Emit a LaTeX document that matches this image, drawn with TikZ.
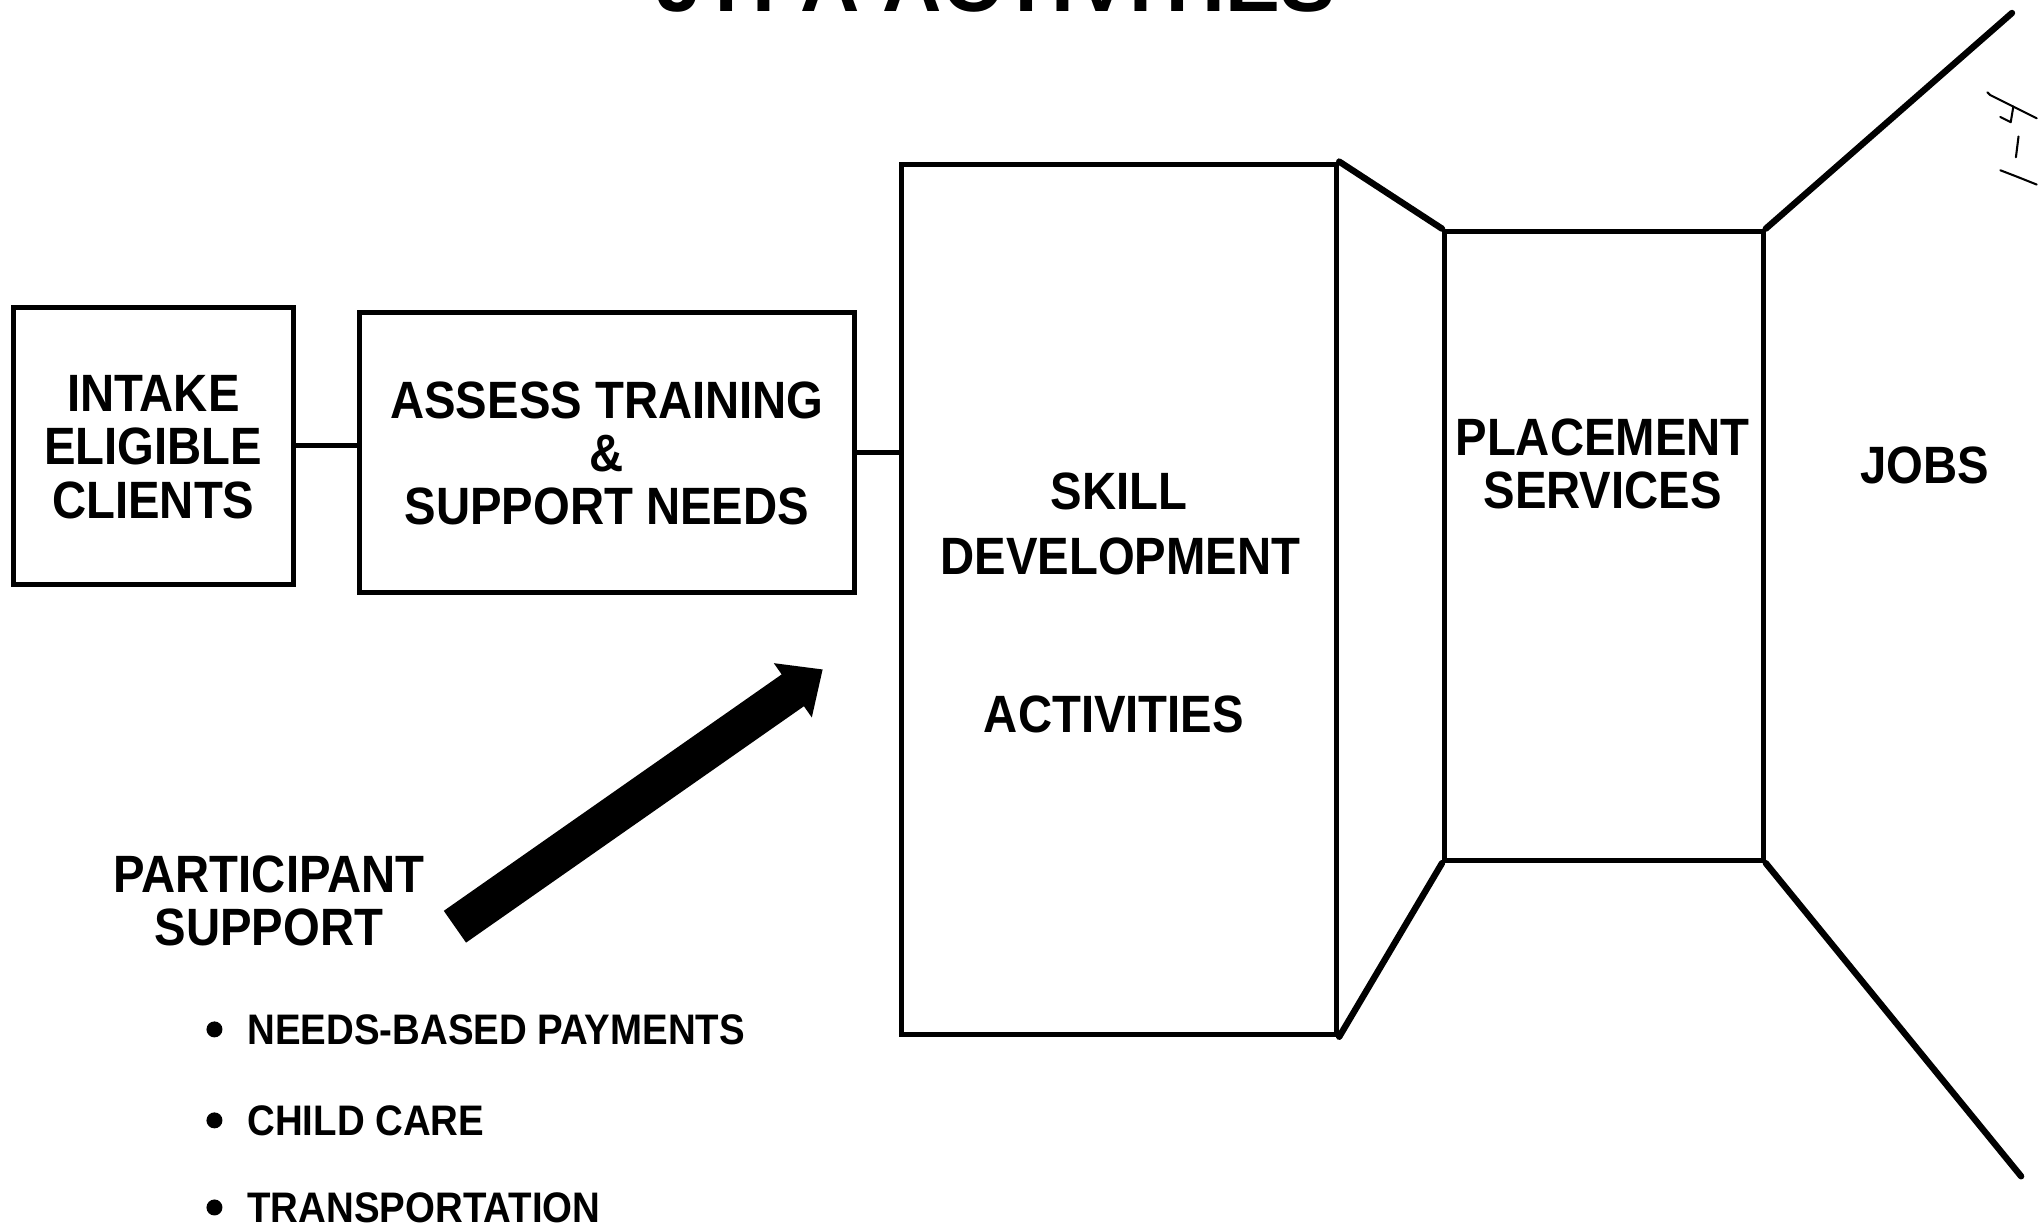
\documentclass[tikz,border=0pt]{standalone}
\usepackage{fontspec}
\setmainfont{Liberation Sans}
\newfontfamily\hvn[FakeStretch=0.9]{Liberation Sans}
\usetikzlibrary{arrows.meta}
\begin{document}
\begin{tikzpicture}[x=0.02cm,y=-0.02cm,
  boxline/.style={draw=black,line width=2.3pt,rectangle,inner sep=0pt},
  persp/.style={line width=2.8pt,line cap=round},
  conn/.style={line width=2.3pt},
  boxtext/.style={font=\hvn\bfseries\fontsize{23}{23.3}\selectfont,align=center,inner sep=0pt},
  itemtext/.style={font=\hvn\bfseries\fontsize{18.7}{20}\selectfont,anchor=west,inner sep=0pt},
  dot/.style={circle,fill=black,inner sep=0pt,minimum size=7pt},
  hand/.style={line width=0.9pt,line cap=round,line join=round}]
\useasboundingbox (0,0) rectangle (1568,946);
\begin{scope}
\clip (0,0) rectangle (1568,946);
\node[font=\bfseries\fontsize{36}{40}\selectfont,anchor=base,inner sep=0pt] (title) at (766,9) {JTPA ACTIVITIES};
\end{scope}

% boxes
\node[boxline,minimum width=216*0.5669pt,minimum height=214*0.5669pt] (intake) at (118,343) {};
\node[boxline,minimum width=382*0.5669pt,minimum height=216*0.5669pt] (assess) at (467,348) {};
\node[boxline,minimum width=336*0.5669pt,minimum height=672*0.5669pt] (skill) at (861,461) {};
\node[boxline,minimum width=246*0.5669pt,minimum height=486*0.5669pt] (place) at (1234,420) {};

% texts in boxes
\node[boxtext] (tintake) at (118,344) {INTAKE\\ELIGIBLE\\CLIENTS};
\node[boxtext] (tassess) at (467,349) {ASSESS TRAINING\\\&\\SUPPORT NEEDS};
\node[boxtext] (tskill1) at (861,378) {SKILL};
\node[boxtext] (tskill2) at (862,428) {DEVELOPMENT};
\node[boxtext] (tskill3) at (857,550) {ACTIVITIES};
\node[boxtext] (tplace) at (1233,357) {PLACEMENT\\SERVICES};
\node[boxtext] (tjobs) at (1481,358) {JOBS};

% connectors
\draw[conn] (intake.east) -- (intake.east -| assess.west);
\draw[conn] (assess.east) -- (assess.east -| skill.west);

% perspective
\coordinate (jtop) at (1548,10);
\coordinate (jbot) at (1555,905);
\draw[persp] (skill.north east) -- (place.north west);
\draw[persp] (skill.south east) -- (place.south west);
\draw[persp] (place.north east) -- (jtop);
\draw[persp] (place.south east) -- (jbot);

% participant support
\node[boxtext] (tpart) at (207,693) {PARTICIPANT\\SUPPORT};
\coordinate (ptail) at (350,713);
\coordinate (ptip) at (633,515);
\draw[line width=17pt,-{Triangle[length=16pt,width=28pt]}] (ptail) -- (ptip);

% bullet items
\node[dot] (d1) at (165,792) {};
\node[dot] (d2) at (165,862) {};
\node[dot] (d3) at (165,929) {};
\node[itemtext] (i1) at (190,792) {NEEDS-BASED PAYMENTS};
\node[itemtext] (i2) at (190,862) {CHILD CARE};
\node[itemtext] (i3) at (190,929) {TRANSPORTATION};

% handwritten mark
\draw[hand] (1529,71) -- (1531,73) .. controls (1545,80) .. (1567,91);
\draw[hand] (1549,82) -- (1547,94) -- (1539,90);
\draw[hand] (1553,105) -- (1551,121);
\draw[hand] (1539,131) .. controls (1552,136) .. (1567,142);
\end{tikzpicture}
\end{document}
